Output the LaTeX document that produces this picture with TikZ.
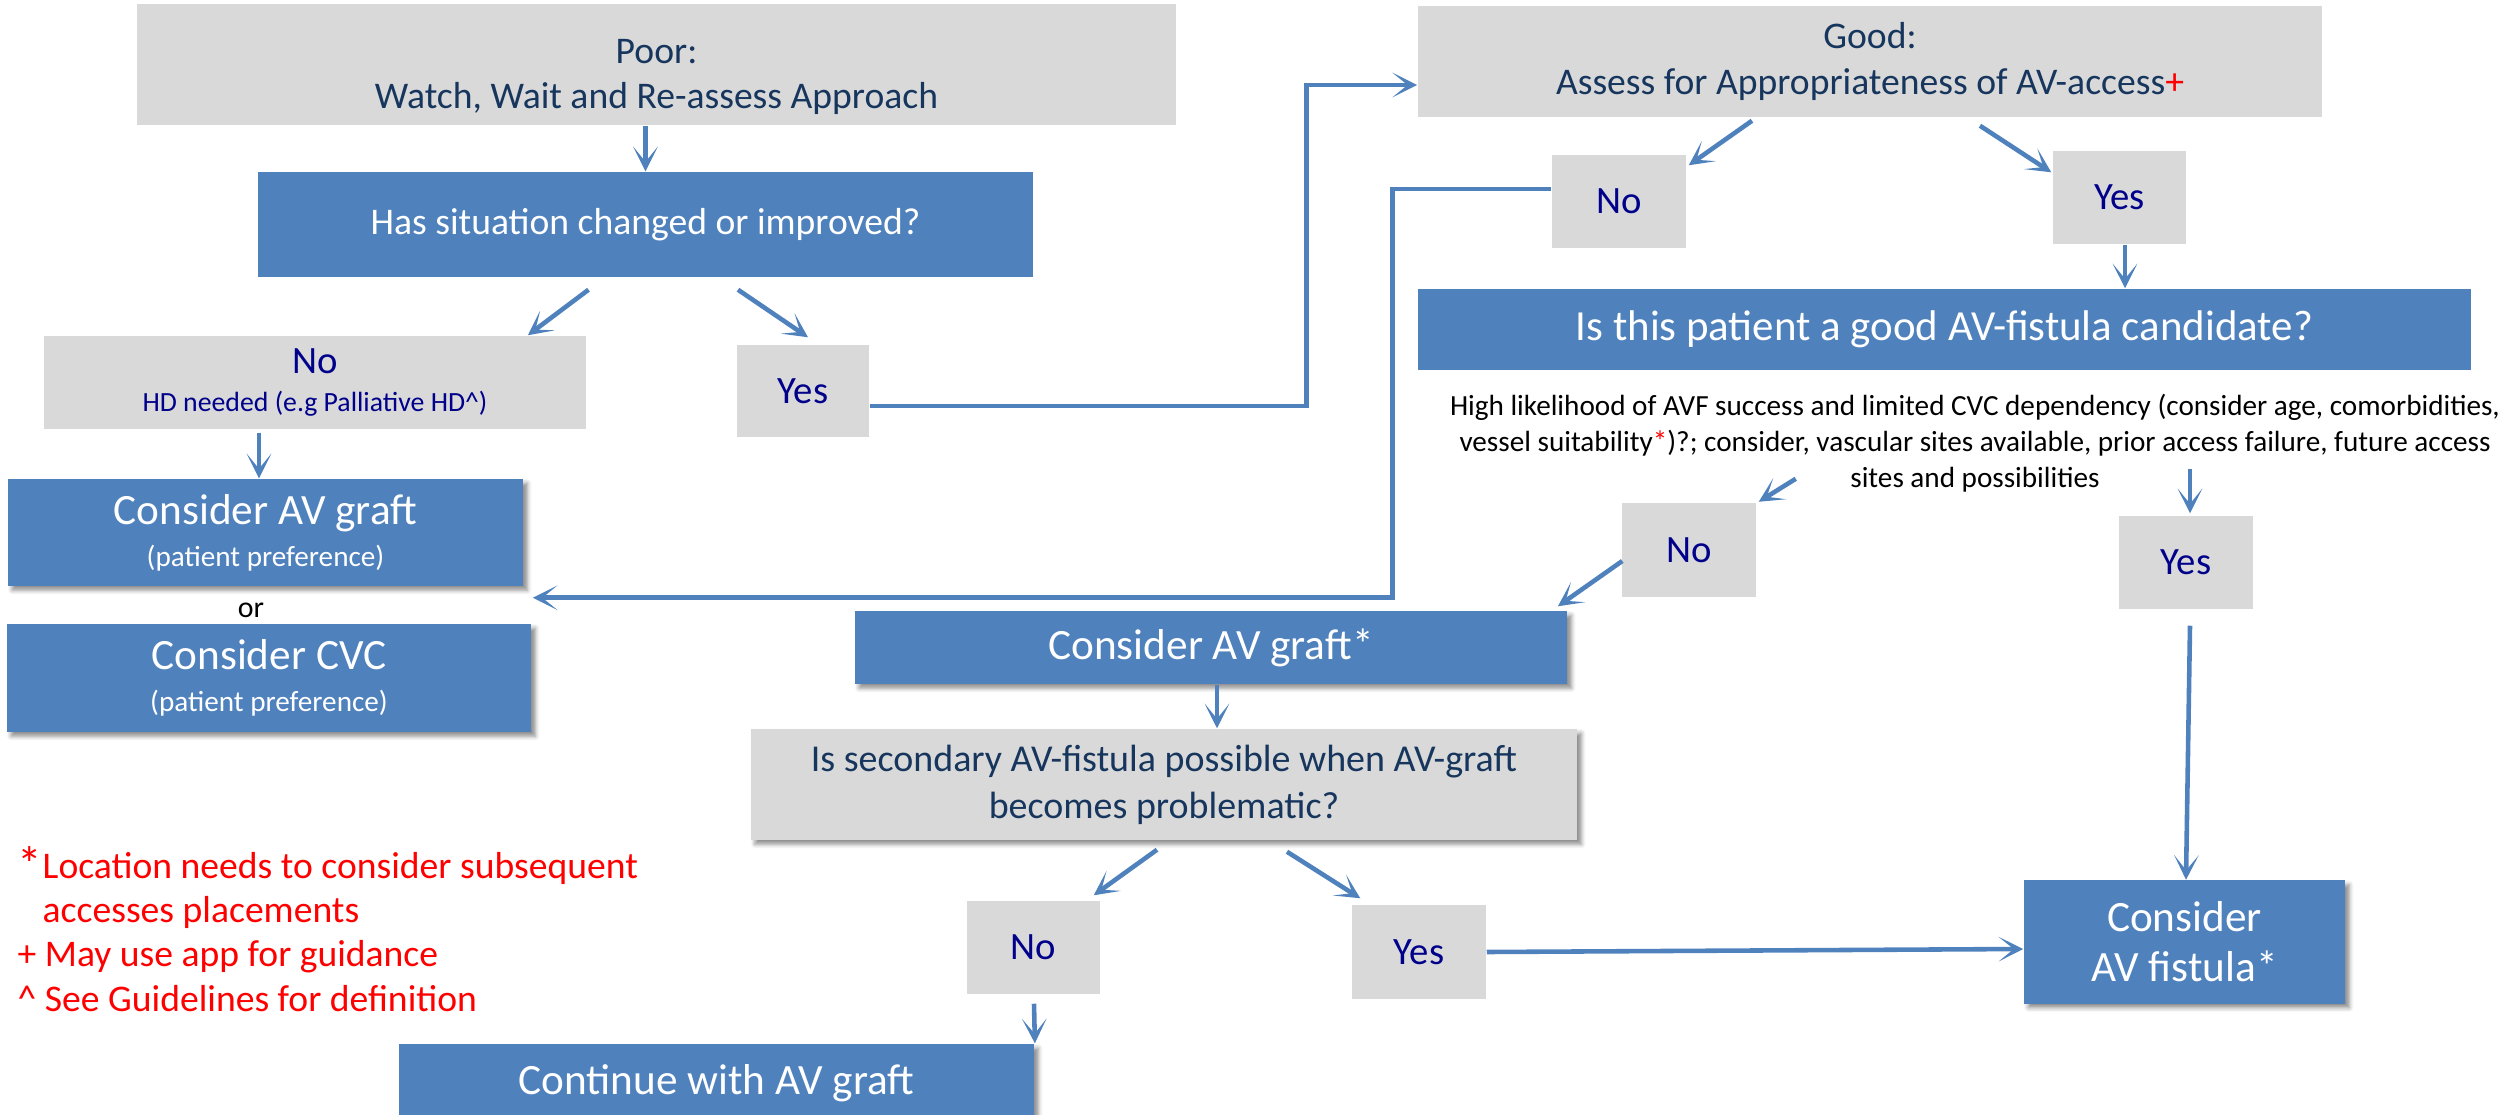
\documentclass[tikz,border=0pt]{standalone}
\usepackage{fontspec}
\setmainfont{Carlito}
\usepackage{tikz}
\usetikzlibrary{arrows.meta,calc,shadows.blur}
\definecolor{boxblue}{HTML}{4F81BD}
\definecolor{boxgrey}{HTML}{D9D9D9}
\definecolor{headtext}{HTML}{17365D}
\definecolor{answertext}{HTML}{00008B}
\tikzstyle{greybox}=[rectangle, fill=boxgrey, inner sep=0pt, align=center, text=headtext, font=\fontsize{10.7}{12.6}\selectfont]
\tikzstyle{bluebox}=[rectangle, fill=boxblue, inner sep=0pt, align=center, text=white]
\tikzstyle{answer}=[rectangle, fill=boxgrey, inner sep=0pt, align=center, minimum width=1.34cm, minimum height=0.93cm, text=answertext, font=\fontsize{11}{12}\selectfont]
\tikzstyle{boxshadow}=[blur shadow={shadow xshift=1.2pt, shadow yshift=-1.2pt, shadow blur radius=1.2pt, shadow opacity=45}]
\tikzstyle{arr}=[draw=boxblue, line width=1.3pt, -{Stealth[length=7pt,width=7pt,inset=4.3pt]}]

\begin{document}
\begin{tikzpicture}[x=0.01cm, y=-0.01cm]
        \useasboundingbox (0,0) rectangle (2517,1115);
        % poor branch
        \node[greybox, minimum width=10.39cm, minimum height=1.21cm] (poor) at (656.5,64.5) {\rule{0pt}{14pt}Poor:\\Watch, Wait and Re-assess Approach};
        \node[bluebox, minimum width=7.75cm, minimum height=1.05cm, font=\fontsize{10.7}{12}\selectfont] (changed) at (645.5,224.5) {Has situation changed or improved?};
        \node[answer, minimum width=5.42cm] (noL) at (315,382.5) {No\\[-1pt]{\fontsize{7.9}{9}\selectfont HD needed (e.g Palliative HD\textasciicircum)}};
        \node[answer, minimum width=1.32cm, minimum height=0.92cm] (yesL) at (803,391) {Yes};
        \node[bluebox, boxshadow, minimum width=5.15cm, minimum height=1.07cm] (graftL) at (265.5,532.5) {{\fontsize{12.3}{14}\selectfont Consider AV graft}\\{\fontsize{8.3}{10}\selectfont (patient preference)}};
        \node[font=\fontsize{8.5}{10}\selectfont] (or) at (251,610) {or};
        \node[bluebox, boxshadow, minimum width=5.24cm, minimum height=1.08cm] (cvc) at (269,678) {{\fontsize{12.3}{14}\selectfont Consider CVC}\\{\fontsize{8.3}{10}\selectfont (patient preference)}};
        \draw[arr] (changed.north |- poor.south) -- (changed.north);
        \draw[arr] ($(changed.south)+(-57,12)$) -- ($(noL.north east)+(-59,0)$);
        \draw[arr] ($(changed.south)+(92.5,12)$) -- ($(yesL.north)+(5,-7)$);
        \draw[arr] ($(noL.south)+(-56,3)$) -- ($(graftL.north)+(-6.5,0)$);

        % good branch
        \node[greybox, minimum width=9.04cm, minimum height=1.11cm, font=\fontsize{10.7}{13}\selectfont] (good) at (1870,61.5) {Good:\\Assess for Appropriateness of AV-access{\color{red}+}};
        \node[answer] (noM) at (1619,201.5) {No};
        \node[answer, minimum width=1.33cm] (yesM) at (2119.5,197.5) {Yes};
        \node[bluebox, minimum width=10.53cm, minimum height=0.81cm, font=\fontsize{12.2}{14}\selectfont] (cand) at (1944.5,329.5) {Is this patient a good AV-fistula candidate?};
        \node[align=center, inner sep=0pt, font=\fontsize{8.3}{10.3}\selectfont] (desc) at (1975,443) {High likelihood of AVF success and limited CVC dependency (consider age, comorbidities,\\vessel suitability{\color{red}*})?; consider, vascular sites available, prior access failure, future access\\sites and possibilities};
        \node[answer] (noR) at (1689,550) {No};
        \node[answer] (yesR) at (2186,562.5) {Yes};
        \draw[arr] ($(yesL.east)+(0,15)$) -- ++(437,0) |- ($(good.west)+(0,23.5)$);
        \draw[arr] ($(good.south)+(-118,3)$) -- ($(noM.north east)+(2,11)$);
        \draw[arr] ($(good.south)+(110,8)$) -- ($(yesM.north west)+(-1,22)$);
        \draw[arr] ($(yesM.south)+(5.5,0)$) -- ($(cand.north)+(180.5,0)$);
        \draw[arr] ($(noM.west)+(0,-12.5)$) -- ++(-159,0) |- ($(graftL.south east)+(9,11)$);
        \draw[arr] ($(noR.north east)+(39,-24)$) -- ($(noR.north east)+(2,-1)$);
        \draw[arr] ($(yesR.north)+(4,-46)$) -- ($(yesR.north)+(4,-2)$);

        % graft or fistula
        \node[bluebox, boxshadow, minimum width=7.12cm, minimum height=0.73cm, font=\fontsize{12.3}{14}\selectfont] (graftM) at (1211,647.5) {Consider AV graft*};
        \node[greybox, boxshadow, minimum width=8.26cm, minimum height=1.11cm, font=\fontsize{10.8}{13.3}\selectfont] (second) at (1164,784.5) {Is secondary AV-fistula possible when AV-graft\\becomes problematic?};
        \node[answer, minimum width=1.33cm] (noB) at (1033.5,947.5) {No};
        \node[answer, minimum height=0.94cm] (yesB) at (1419,952) {Yes};
        \node[bluebox, boxshadow, minimum width=3.21cm, minimum height=1.23cm, font=\fontsize{12.3}{14.2}\selectfont] (fistula) at (2184.5,942) {Consider\\AV fistula*};
        \node[bluebox, boxshadow, minimum width=6.35cm, minimum height=0.78cm, font=\fontsize{12.3}{14}\selectfont] (cont) at (716.5,1083) {Continue with AV graft};
        \draw[arr] ($(noR.west)+(1,11)$) -- ($(graftM.north east)+(-10,-4)$);
        \draw[arr] ($(yesR.south)+(4,16)$) -- ($(fistula.north)+(1.5,0)$);
        \draw[arr] ($(graftM.south)+(6,0)$) -- ($(second.north)+(53,0)$);
        \draw[arr] ($(second.south)+(-7,9)$) -- ($(noB.north east)+(-7,-5)$);
        \draw[arr] ($(second.south)+(123,11)$) -- ($(yesB.north west)+(9,-6)$);
        \draw[arr] (yesB.east) -- ($(fistula.west)+(0,7)$);
        \draw[arr] ($(noB.south)+(0.5,9)$) -- (cont.north east);

        % notes
        \node[anchor=north west, align=left, inner sep=0pt, text=red, font=\fontsize{10.7}{12.6}\selectfont] (notes) at (17,846) {\makebox[0.25cm][l]{\raisebox{-1pt}{\fontsize{14}{14}\selectfont *}}Location needs to consider subsequent\\\hspace*{0.25cm}accesses placements\\+ May use app for guidance\\\textasciicircum{} See Guidelines for definition};
\end{tikzpicture}
\end{document}
